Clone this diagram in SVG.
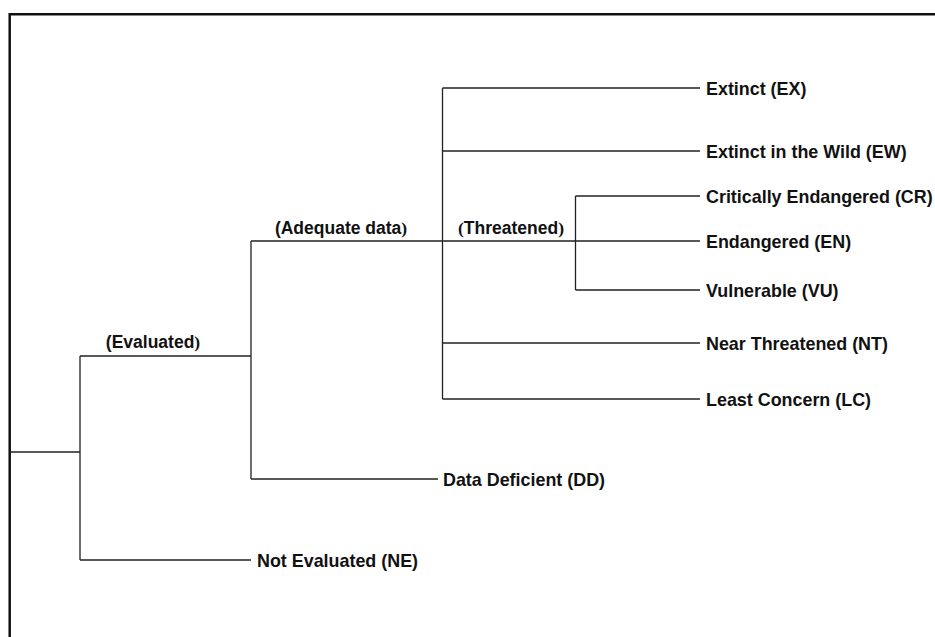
<svg xmlns="http://www.w3.org/2000/svg" width="935" height="637" viewBox="0 0 935 637">
<style>
.bg{fill:#fff}
.frame{stroke:#111;stroke-width:2.5;fill:none}
.ln{stroke:#222;stroke-width:1.3;fill:none}
.t{font-family:"Liberation Sans",Arial,Helvetica,sans-serif;font-weight:bold;font-size:17.9px;fill:#111}
.lbl{font-family:"Liberation Sans",Arial,Helvetica,sans-serif;font-weight:bold;font-size:17.5px;fill:#111;text-anchor:middle}
.sp{font-family:"Liberation Serif","Times New Roman",serif;font-weight:bold}
</style>
<rect class="bg" x="0" y="0" width="935" height="637"/>
<path class="frame" d="M9.7,637 V14.3 H935"/>
<g id="connectors">
<path class="ln" d="M10,452 H80 M80,356 V560 M80,356 H251 M80,560 H251"/>
<path class="ln" d="M251,241 V479 M251,241 H700 M251,479 H438"/>
<path class="ln" d="M442.5,88 V399 M442.5,88 H700 M442.5,151 H700 M442.5,343 H700 M442.5,399 H700"/>
<path class="ln" d="M575.5,196 V290 M575.5,196 H700 M575.5,290 H700"/>
</g>
<g id="evaluated"><text class="lbl" x="153" y="348">(Evaluated<tspan class="sp">)</tspan></text></g>
<g id="adequate"><text class="lbl" x="341" y="234">(Adequate data<tspan class="sp">)</tspan></text></g>
<g id="threatened"><text class="lbl" x="511" y="234"><tspan class="sp">(</tspan>Threatened<tspan class="sp">)</tspan></text></g>
<g id="ex"><text class="t" x="706" y="94.5">Extinct (EX)</text></g>
<g id="ew"><text class="t" x="706" y="157.5">Extinct in the Wild (EW)</text></g>
<g id="cr"><text class="t" x="706" y="202.5">Critically Endangered (CR)</text></g>
<g id="en"><text class="t" x="706" y="247.5">Endangered (EN)</text></g>
<g id="vu"><text class="t" x="706" y="296.5">Vulnerable (VU)</text></g>
<g id="nt"><text class="t" x="706" y="349.5">Near Threatened (NT)</text></g>
<g id="lc"><text class="t" x="706" y="405.5">Least Concern (LC)</text></g>
<g id="dd"><text class="t" x="443" y="485.5">Data Deficient (DD)</text></g>
<g id="ne"><text class="t" x="257" y="566.5">Not Evaluated (NE)</text></g>
</svg>
